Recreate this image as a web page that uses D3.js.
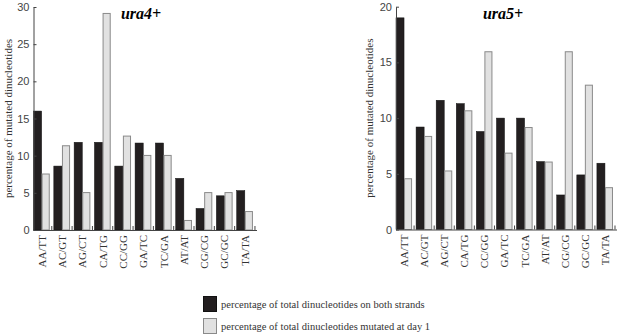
<!DOCTYPE html>
<html>
<head>
<meta charset="utf-8">
<script src="https://cdn.jsdelivr.net/npm/d3@7"></script>
<style>
  body { margin: 0; background: #fff; }
  .tick text { font-family: "Liberation Sans", Arial, sans-serif; font-size: 11px; fill: #444; }
  .cat_label { font-family: "Liberation Serif", "Times New Roman", serif; font-size: 11px; fill: #333; }
  .y_title { font-family: "Liberation Serif", "Times New Roman", serif; font-size: 11px; fill: #333; }
  .panel_title { font-family: "Liberation Serif", "Times New Roman", serif; font-size: 16px; font-weight: bold; font-style: italic; }
  .legend_text { font-family: "Liberation Serif", "Times New Roman", serif; font-size: 10.5px; fill: #333; }
</style>
</head>
<body>
<svg id="chart" width="617" height="335"></svg>
<script>
// dinucleotide categories shared by both panels
const categories = ['AA/TT', 'AC/GT', 'AG/CT', 'CA/TG', 'CC/GG', 'GA/TC', 'TC/GA', 'AT/AT', 'CG/CG', 'GC/GC', 'TA/TA'];

// ura4+ : % of total dinucleotides on both strands / % mutated at day 1
const ura4Strands = [16.0, 8.6, 11.8, 11.8, 8.6, 11.7, 11.7, 6.95, 2.9, 4.6, 5.3];
const ura4Mutated = [7.6, 11.4, 5.1, 29.2, 12.7, 10.1, 10.1, 1.35, 5.1, 5.1, 2.55];

// ura5+
const ura5Strands = [19.0, 9.2, 11.6, 11.3, 8.8, 10.0, 10.0, 6.1, 3.1, 4.9, 5.95];
const ura5Mutated = [4.6, 8.4, 5.3, 10.7, 16.0, 6.9, 9.2, 6.1, 16.0, 13.0, 3.8];

const ura4Ticks = [0, 5, 10, 15, 20, 25, 30];
const ura5Ticks = [0, 5, 10, 15, 20];

const legendLabels = ['percentage of total dinucleotides on both strands',
                      'percentage of total dinucleotides mutated at day 1'];

const colors = {dark: '#231f20', light: '#e1e1e1', lightStroke: '#8a8a8a'};

const svg = d3.select('#chart');

function panel(cfg) {
	const g = svg.append('g').attr('class', 'g_panel');

	const x = d3.scaleBand()
		.domain(categories)
		.range([cfg.x0, cfg.x1])
		.paddingInner(0.2)
		.paddingOuter(0.1)
		.align(0);
	const xs = d3.scaleBand()
		.domain(['strands', 'mutated'])
		.range([0, x.bandwidth()]);
	const y = d3.scaleLinear()
		.domain([0, cfg.max])
		.range([cfg.y0, cfg.y1]);

	const rows = categories.map((c, i) => ({cat: c, strands: cfg.strands[i], mutated: cfg.mutated[i]}));

	// bars
	const gGroups = g.selectAll('.g_group')
		.data(rows).enter()
		.append('g')
		.attr('class', 'g_group')
		.attr('transform', d => 'translate(' + x(d.cat) + ',0)');

	gGroups.append('rect')
		.attr('x', xs('strands'))
		.attr('y', d => y(d.strands))
		.attr('width', xs.bandwidth())
		.attr('height', d => y(0) - y(d.strands))
		.style('fill', colors.dark)
		.style('stroke', '#111')
		.style('stroke-width', 0.5);

	gGroups.append('rect')
		.attr('x', xs('mutated') + 0.5)
		.attr('y', d => y(d.mutated) + 0.5)
		.attr('width', xs.bandwidth() - 1)
		.attr('height', d => y(0) - y(d.mutated) - 0.5)
		.style('fill', colors.light)
		.style('stroke', colors.lightStroke)
		.style('stroke-width', 1);

	// y axis, ticks point inward
	const yAxis = d3.axisLeft(y)
		.tickValues(cfg.ticks)
		.tickSizeInner(-3)
		.tickSizeOuter(0)
		.tickPadding(4);
	g.append('g')
		.attr('class', 'y_axis')
		.attr('transform', 'translate(' + cfg.x0 + ',0)')
		.call(yAxis)
		.call(a => a.select('.domain').style('stroke', '#444'))
		.call(a => a.selectAll('.tick line').style('stroke', '#444'));

	// x axis baseline with small separators between groups
	g.append('line')
		.attr('x1', cfg.x0)
		.attr('x2', cfg.x1)
		.attr('y1', y(0) + 0.5)
		.attr('y2', y(0) + 0.5)
		.style('stroke', '#444')
		.style('stroke-width', 1.2);

	const gap = x.step() - x.bandwidth();
	g.selectAll('.x_sep')
		.data(categories).enter()
		.append('line')
		.attr('class', 'x_sep')
		.attr('x1', d => Math.min(x(d) + x.bandwidth() + gap / 2, cfg.x1 - 0.5))
		.attr('x2', d => Math.min(x(d) + x.bandwidth() + gap / 2, cfg.x1 - 0.5))
		.attr('y1', y(0))
		.attr('y2', y(0) - 4)
		.style('stroke', '#444');

	// category labels, rotated
	g.selectAll('.cat_label')
		.data(categories).enter()
		.append('text')
		.attr('class', 'cat_label')
		.attr('transform', d => 'translate(' + (x(d) + x.bandwidth() / 2 + 4) + ',' + (y(0) + 5) + ') rotate(-90)')
		.attr('text-anchor', 'end')
		.text(d => d);

	// y title
	g.append('text')
		.attr('class', 'y_title')
		.attr('transform', 'translate(' + cfg.titleX + ',' + ((cfg.y0 + cfg.y1) / 2) + ') rotate(-90)')
		.attr('text-anchor', 'middle')
		.text('percentage of mutated dinucleotides');

	g.append('text')
		.attr('class', 'panel_title')
		.attr('x', cfg.nameX)
		.attr('y', 19)
		.attr('text-anchor', 'middle')
		.text(cfg.name);
}

panel({x0: 33.5, x1: 257, y0: 230, y1: 7, max: 30, ticks: ura4Ticks,
	strands: ura4Strands, mutated: ura4Mutated, titleX: 12, nameX: 141, name: 'ura4+'});
panel({x0: 396, x1: 617, y0: 229.5, y1: 6.7, max: 20, ticks: ura5Ticks,
	strands: ura5Strands, mutated: ura5Mutated, titleX: 373, nameX: 503, name: 'ura5+'});

// legend
const gLegend = svg.append('g').attr('class', 'g_legend');
gLegend.selectAll('rect')
	.data(legendLabels).enter()
	.append('rect')
	.attr('x', 203.5)
	.attr('y', (d, i) => 296.5 + i * 22)
	.attr('width', 13)
	.attr('height', 15)
	.style('fill', (d, i) => i == 0 ? colors.dark : colors.light)
	.style('stroke', (d, i) => i == 0 ? '#111' : colors.lightStroke);
gLegend.selectAll('text')
	.data(legendLabels).enter()
	.append('text')
	.attr('class', 'legend_text')
	.attr('x', 221)
	.attr('y', (d, i) => 307.5 + i * 22)
	.text(d => d);
</script>
</body>
</html>
